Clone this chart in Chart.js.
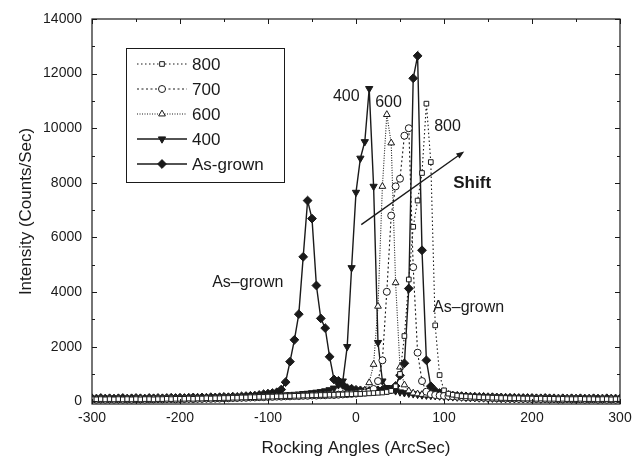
<!DOCTYPE html>
<html>
<head>
<meta charset="utf-8">
<script src="https://cdn.jsdelivr.net/npm/chart.js@4"></script>
<style>
  body { margin: 0; background: #fff; }
  #wrap { width: 644px; height: 461px; }
</style>
</head>
<body>
<div id="wrap"><canvas id="myChart" width="644" height="461"></canvas></div>
<script>
// rocking angle (arcsec), one reading every 5
const angles = [
  -300, -295, -290, -285, -280, -275, -270, -265, -260, -255,
  -250, -245, -240, -235, -230, -225, -220, -215, -210, -205,
  -200, -195, -190, -185, -180, -175, -170, -165, -160, -155,
  -150, -145, -140, -135, -130, -125, -120, -115, -110, -105,
  -100, -95, -90, -85, -80, -75, -70, -65, -60, -55,
  -50, -45, -40, -35, -30, -25, -20, -15, -10, -5,
  0, 5, 10, 15, 20, 25, 30, 35, 40, 45,
  50, 55, 60, 65, 70, 75, 80, 85, 90, 95,
  100, 105, 110, 115, 120, 125, 130, 135, 140, 145,
  150, 155, 160, 165, 170, 175, 180, 185, 190, 195,
  200, 205, 210, 215, 220, 225, 230, 235, 240, 245,
  250, 255, 260, 265, 270, 275, 280, 285, 290, 295,
  300
];

const s800 = [
  80, 70, 80, 70, 80, 70, 80, 70, 80, 70,
  80, 70, 80, 80, 70, 80, 80, 90, 80, 90,
  90, 90, 100, 90, 100, 100, 110, 100, 110, 110,
  120, 120, 130, 130, 140, 140, 150, 150, 160, 160,
  170, 170, 180, 180, 190, 190, 200, 200, 210, 210,
  220, 220, 230, 230, 240, 240, 250, 250, 260, 260,
  270, 270, 280, 290, 300, 310, 320, 340, 380, 550,
  1000, 2390, 4460, 6390, 7350, 8360, 10900, 8760, 2780, 960,
  400, 280, 240, 210, 190, 180, 170, 160, 150, 140,
  140, 130, 130, 120, 120, 110, 110, 110, 100, 100,
  100, 90, 100, 90, 90, 90, 80, 90, 80, 80,
  80, 90, 80, 80, 80, 70, 80, 80, 70, 80,
  80
];

const s700 = [
  70, 60, 70, 60, 70, 60, 70, 60, 70, 60,
  70, 70, 60, 70, 70, 80, 70, 80, 80, 70,
  80, 80, 90, 80, 90, 90, 100, 90, 100, 100,
  110, 110, 120, 120, 130, 130, 140, 140, 150, 150,
  160, 160, 170, 170, 180, 180, 190, 190, 200, 200,
  210, 210, 220, 220, 230, 230, 240, 250, 260, 270,
  280, 300, 320, 350, 450, 740, 1500, 4010, 6800, 7870,
  8150, 9725, 10000, 4910, 1780, 740, 350, 260, 230, 210,
  200, 190, 180, 170, 160, 150, 150, 140, 130, 130,
  120, 120, 110, 110, 100, 100, 100, 90, 90, 90,
  80, 80, 80, 80, 70, 80, 70, 70, 80, 70,
  70, 70, 60, 70, 70, 60, 70, 60, 70, 60,
  70
];

const s600 = [
  60, 70, 60, 70, 60, 70, 60, 70, 60, 70,
  70, 60, 70, 70, 80, 70, 80, 70, 80, 80,
  80, 90, 80, 90, 90, 100, 90, 100, 100, 110,
  100, 110, 110, 120, 120, 130, 130, 140, 140, 150,
  150, 160, 160, 170, 170, 180, 180, 190, 190, 200,
  200, 210, 210, 220, 220, 230, 240, 250, 260, 270,
  280, 300, 400, 680, 1350, 3480, 7870, 10500, 9460, 4340,
  1250, 600, 380, 300, 270, 250, 230, 220, 210, 200,
  190, 180, 170, 160, 150, 150, 140, 130, 130, 120,
  120, 110, 110, 100, 100, 100, 90, 90, 90, 80,
  80, 80, 80, 70, 80, 70, 70, 80, 70, 70,
  70, 60, 70, 70, 60, 70, 60, 70, 60, 60,
  60
];

const s400 = [
  80, 90, 80, 90, 80, 90, 80, 90, 80, 90,
  90, 80, 90, 90, 100, 90, 100, 90, 100, 110,
  100, 110, 100, 110, 120, 110, 120, 130, 120, 130,
  130, 140, 140, 150, 150, 160, 160, 170, 180, 180,
  190, 200, 210, 220, 230, 240, 250, 260, 280, 290,
  310, 330, 350, 380, 420, 480, 600, 740, 2000, 4890,
  7650, 8900, 9505, 11450, 7870, 2150, 740, 500, 420, 380,
  340, 310, 290, 270, 250, 230, 220, 210, 200, 190,
  180, 170, 160, 150, 150, 140, 130, 130, 120, 120,
  110, 110, 110, 100, 100, 100, 90, 100, 90, 90,
  90, 90, 80, 90, 80, 90, 80, 80, 90, 80,
  80, 90, 80, 80, 90, 80, 80, 90, 80, 80,
  80
];

const asGrown = [
  110, 100, 120, 100, 110, 100, 110, 120, 100, 110,
  120, 110, 100, 120, 110, 120, 110, 120, 130, 120,
  130, 120, 130, 140, 130, 140, 130, 150, 140, 150,
  160, 150, 170, 160, 180, 190, 200, 210, 230, 260,
  280, 300, 330, 430, 700, 1450, 2250, 3190, 5290, 7350,
  6690, 4240, 3035, 2680, 1630, 800, 750, 600, 480, 460,
  420, 400, 380, 380, 390, 400, 410, 400, 430, 560,
  950, 1390, 4130, 11830, 12650, 5530, 1500, 550, 380, 300,
  260, 230, 210, 200, 190, 180, 170, 170, 160, 160,
  150, 150, 140, 140, 130, 130, 130, 120, 120, 120,
  120, 110, 110, 120, 110, 110, 100, 110, 100, 110,
  100, 110, 100, 100, 110, 100, 100, 110, 100, 100,
  100
];

const seriesNames = ['800', '700', '600', '400', 'As-grown'];
const yTicks = [0, 2000, 4000, 6000, 8000, 10000, 12000, 14000];

// text labels placed in data units
const notes = [
  { text: '400', x: -11, y: 11150 },
  { text: '600', x: 37, y: 10950 },
  { text: '800', x: 104, y: 10050 },
  { text: 'As\u2013grown', x: -123, y: 4350 },
  { text: 'As\u2013grown', x: 128, y: 3440 }
];

const FONT = '"Liberation Sans", Arial, Helvetica, sans-serif';
const INK = '#1a1a1a';

function pts(vals) {
  return vals.map((v, i) => ({ x: angles[i], y: v }));
}

const datasets = [
  { label: seriesNames[0], data: pts(s800), pointStyle: 'rect', pointRadius: 3.3,
    pointBackgroundColor: '#fff', borderDash: [1.5, 2.5] },
  { label: seriesNames[1], data: pts(s700), pointStyle: 'circle', pointRadius: 3.5,
    pointBackgroundColor: '#fff', borderDash: [2, 2.5] },
  { label: seriesNames[2], data: pts(s600), pointStyle: 'triangle', pointRadius: 3.9,
    pointBackgroundColor: '#fff', borderDash: [1, 1.5] },
  { label: seriesNames[3], data: pts(s400), pointStyle: 'triangle', rotation: 180, pointRadius: 4.2,
    pointBackgroundColor: INK, borderWidth: 1.4 },
  { label: seriesNames[4], data: pts(asGrown), pointStyle: 'rectRot', pointRadius: 4.4,
    pointBackgroundColor: INK, borderWidth: 1.4 }
].map(d => Object.assign({
  borderColor: INK,
  pointBorderColor: INK,
  pointBorderWidth: 1,
  borderWidth: 1.1,
  fill: false,
  tension: 0
}, d));

// frame with inward ticks on all four sides
const framePlugin = {
  id: 'frame',
  afterDatasetsDraw(chart) {
    const { ctx, chartArea: a, scales: { x, y } } = chart;
    ctx.save();
    ctx.strokeStyle = INK;
    ctx.lineWidth = 1.2;
    ctx.strokeRect(a.left, a.top, a.right - a.left, a.bottom - a.top);
    ctx.lineWidth = 1;
    ctx.beginPath();
    for (let v = -300; v <= 300; v += 50) {
      const px = Math.round(x.getPixelForValue(v)) + 0.5;
      const len = v % 100 === 0 ? 5 : 3;
      ctx.moveTo(px, a.bottom); ctx.lineTo(px, a.bottom - len);
      ctx.moveTo(px, a.top); ctx.lineTo(px, a.top + len);
    }
    for (let v = 0; v <= 14000; v += 1000) {
      const py = Math.round(y.getPixelForValue(v)) + 0.5;
      const len = v % 2000 === 0 ? 5 : 3;
      ctx.moveTo(a.left, py); ctx.lineTo(a.left + len, py);
      ctx.moveTo(a.right, py); ctx.lineTo(a.right - len, py);
    }
    ctx.stroke();
    ctx.restore();
  }
};

// peak labels, shift arrow and the boxed legend
const notesPlugin = {
  id: 'notes',
  afterDraw(chart) {
    const { ctx, scales: { x, y } } = chart;
    ctx.save();
    ctx.fillStyle = INK;
    ctx.textAlign = 'center';
    ctx.textBaseline = 'middle';
    ctx.font = '16px ' + FONT;
    notes.forEach(n => ctx.fillText(n.text, x.getPixelForValue(n.x), y.getPixelForValue(n.y)));
    ctx.font = 'bold 17px ' + FONT;
    ctx.fillText('Shift', x.getPixelForValue(132), y.getPixelForValue(8000));

    // arrow
    const x0 = x.getPixelForValue(6), y0 = y.getPixelForValue(6470);
    const x1 = x.getPixelForValue(123), y1 = y.getPixelForValue(9150);
    const ang = Math.atan2(y1 - y0, x1 - x0);
    ctx.strokeStyle = INK;
    ctx.lineWidth = 1.4;
    ctx.beginPath();
    ctx.moveTo(x0, y0);
    ctx.lineTo(x1 - 4 * Math.cos(ang), y1 - 4 * Math.sin(ang));
    ctx.stroke();
    ctx.beginPath();
    ctx.moveTo(x1, y1);
    ctx.lineTo(x1 - 8 * Math.cos(ang) + 3 * Math.sin(ang), y1 - 8 * Math.sin(ang) - 3 * Math.cos(ang));
    ctx.lineTo(x1 - 8 * Math.cos(ang) - 3 * Math.sin(ang), y1 - 8 * Math.sin(ang) + 3 * Math.cos(ang));
    ctx.closePath();
    ctx.fill();

    // legend box
    const bx = 126.5, by = 48.5, bw = 158, bh = 134;
    ctx.lineWidth = 1;
    ctx.strokeRect(bx, by, bw, bh);
    ctx.font = '17px ' + FONT;
    ctx.textAlign = 'left';
    chart.data.datasets.forEach((ds, i) => {
      const ry = by + 15.5 + i * 25;
      ctx.save();
      ctx.lineWidth = ds.borderWidth;
      ctx.setLineDash(ds.borderDash || []);
      ctx.beginPath();
      ctx.moveTo(137, ry); ctx.lineTo(187, ry);
      ctx.stroke();
      ctx.restore();
      ctx.save();
      ctx.fillStyle = ds.pointBackgroundColor;
      ctx.strokeStyle = INK;
      ctx.lineWidth = 1;
      Chart.helpers.drawPoint(ctx, {
        pointStyle: ds.pointStyle, rotation: ds.rotation || 0,
        radius: ds.pointRadius, borderWidth: 1
      }, 162, ry);
      ctx.restore();
      ctx.fillText(ds.label, 192, ry + 1);
    });
    ctx.restore();
  }
};

const config = {
  type: 'line',
  data: { datasets: datasets },
  options: {
    responsive: false,
    animation: false,
    layout: { padding: { top: 19, right: 24, left: 0, bottom: 0 } },
    plugins: {
      legend: { display: false },
      tooltip: { enabled: false }
    },
    scales: {
      x: {
        type: 'linear',
        min: -300,
        max: 300,
        grid: { display: false, drawTicks: false },
        border: { display: false },
        ticks: { stepSize: 100, padding: 6, color: INK, font: { family: FONT, size: 14 } },
        title: { display: true, text: 'Rocking Angles (ArcSec)', color: INK,
                 font: { family: FONT, size: 17 }, padding: { top: 4, bottom: 2 } },
        afterFit(scale) { scale.height = 57; }
      },
      y: {
        type: 'linear',
        min: -100,
        max: 14000,
        grid: { display: false, drawTicks: false },
        border: { display: false },
        ticks: { padding: 10, color: INK, font: { family: FONT, size: 14 },
                 callback: v => String(v) },
        afterBuildTicks(scale) { scale.ticks = yTicks.map(v => ({ value: v })); },
        title: { display: true, text: 'Intensity (Counts/Sec)', color: INK,
                 font: { family: FONT, size: 17 }, padding: { top: 16, bottom: 4 } },
        afterFit(scale) { scale.width = 92; }
      }
    }
  },
  plugins: [framePlugin, notesPlugin]
};

var myChart = new Chart(document.getElementById('myChart'), config);
</script>
</body>
</html>
